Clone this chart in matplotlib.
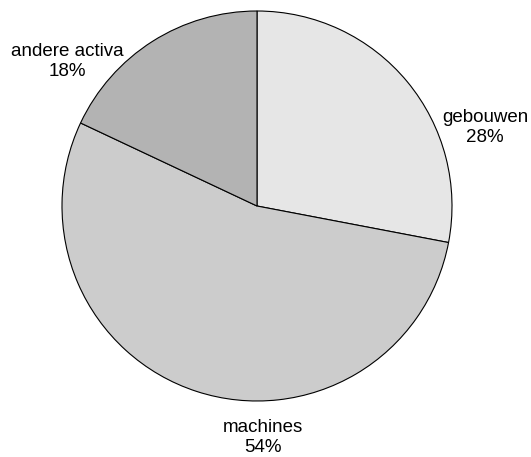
import matplotlib
matplotlib.use("Agg")
import matplotlib.pyplot as plt

labels = ["gebouwen", "machines", "andere activa"]
shares = [28, 54, 18]
colors = ["#e6e6e6", "#cccccc", "#b3b3b3"]
# last-line baseline of each label, in pie radius units
label_pos = [(1.17, 0.328), (0.03, -1.262), (-0.974, 0.665)]

plt.rcParams['font.family'] = ['Liberation Sans', 'DejaVu Sans']

fig = plt.figure(figsize=(5.31, 4.57), dpi=100)
cx, cy, r = 257, 206, 195
ax = fig.add_axes([(cx - r) / 531, (457 - cy - r) / 457, 2 * r / 531, 2 * r / 457])

wedges, _ = ax.pie(shares, colors=colors, startangle=90, counterclock=False,
                   radius=1, wedgeprops=dict(edgecolor="black", linewidth=0.8))
ax.set_xlim(-1, 1)
ax.set_ylim(-1, 1)
ax.set_aspect("equal")
ax.axis("off")

for lab, val, (x, y) in zip(labels, shares, label_pos):
    ax.text(x, y, "{}\n{}%".format(lab, val), ha="center", va="baseline",
            fontsize=13.5, linespacing=1.25, clip_on=False)

fig.savefig("out.png", dpi=100)
